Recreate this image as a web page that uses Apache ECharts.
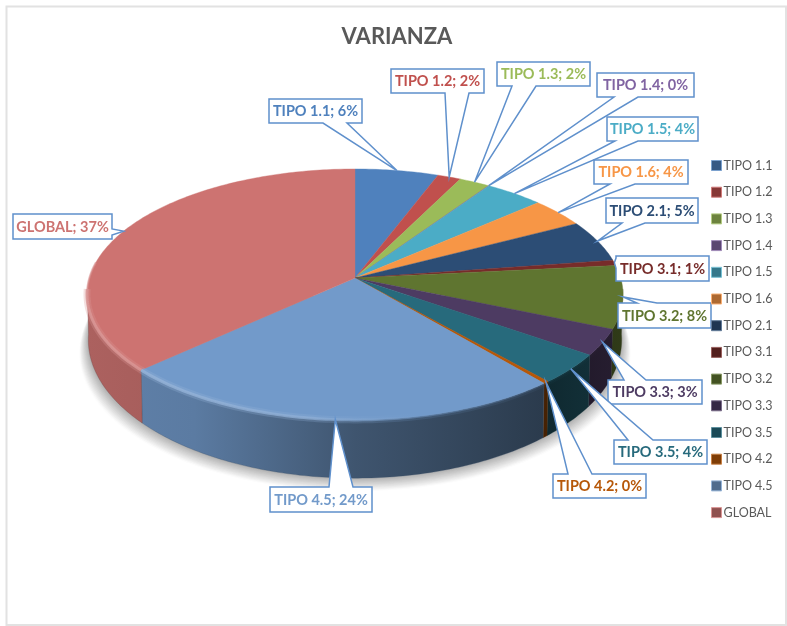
<!DOCTYPE html>
<html>
<head>
<meta charset="utf-8">
<style>html,body{margin:0;padding:0;background:#fff}#c{width:787px;height:626px}</style>
<script src="https://cdn.jsdelivr.net/npm/echarts@6/dist/echarts.min.js"></script>
</head>
<body>
<div id="c"></div>
<script>
const categories = ['TIPO 1.1','TIPO 1.2','TIPO 1.3','TIPO 1.4','TIPO 1.5','TIPO 1.6','TIPO 2.1','TIPO 3.1','TIPO 3.2','TIPO 3.3','TIPO 3.5','TIPO 4.2','TIPO 4.5','GLOBAL'];
const shares = [5.7,1.6,2.1,0.05,4.0,3.8,5.4,0.7,8.1,3.35,3.85,0.3,24.15,36.9];
const colors = ['#4f81bd','#c0504d','#9bbb59','#8064a2','#4bacc6','#f79646','#2c4d75','#772c2a','#5f7530','#4d3b62','#276a7c','#b65708','#729aca','#cd7371'];
const chartTitle = 'VARIANZA';

// Callout boxes: [left, top, width, height, side of the pointer, base start, base end]
const callouts = {
  'TIPO 1.1':[269,99,93,24,'b',323,347],
  'TIPO 1.2':[391,69,93,24,'b',445,469],
  'TIPO 1.3':[497,62,93,24,'b',512,536],
  'TIPO 1.4':[597,73,97,24,'b',614,638],
  'TIPO 1.5':[607,117,91,24,'b',615,638],
  'TIPO 1.6':[594,160,94,24,'b',610,635],
  'TIPO 2.1':[606,198,92,25,'b',622,645],
  'TIPO 3.1':[616,256,93,25,'l',258,268],
  'TIPO 3.2':[618,303,93,25,'t',637,657],
  'TIPO 3.3':[608,380,94,24,'t',624,646],
  'TIPO 3.5':[614,440,93,24,'t',628,653],
  'TIPO 4.2':[553,474,93,24,'t',568,592],
  'TIPO 4.5':[270,487,102,25,'t',329,353],
  'GLOBAL':[13,214,99,25,'r',229,235]
};

// Perspective projection of the tilted disc onto the page
const P = {cx:355, cy:278, R:265.7, S:123.3, k:0.131, depth:44, toward:0.995};
const total = shares.reduce((a,b)=>a+b,0);
const starts = [];
shares.reduce((acc,v,i)=>{starts[i]=acc;return acc+v;},0);

function rim(theta){
  const u=Math.sin(theta), v=Math.cos(theta), d=1+P.k*v;
  return [P.cx+P.R*u/d, P.cy-P.S*v/d, d];
}
function rimXY(theta){const q=rim(theta);return [q[0],q[1]];}
function low(theta){
  const p=rim(theta);
  return [P.cx+(p[0]-P.cx)*P.toward, p[1]+P.depth/(p[2]*p[2])];
}
function angleOf(share){return share/total*Math.PI*2;}
function arc(a,b,fn){
  const n=Math.max(2,Math.ceil(Math.abs(b-a)/0.015)), out=[];
  for(let i=0;i<=n;i++) out.push(fn(a+(b-a)*i/n));
  return out;
}
function rgb(hex){return [1,3,5].map(i=>parseInt(hex.substr(i,2),16));}
function scaleColor(hex,f){return 'rgb('+rgb(hex).map(c=>Math.round(c*f)).join(',')+')';}
function mixWhite(hex,f,a){return 'rgba('+rgb(hex).map(c=>Math.round(c+(255-c)*f)).join(',')+','+a+')';}
const X0=P.cx-268, X1=P.cx+268;
const VIS0=1.66, VIS1=Math.PI*2-1.66; // part of the rim that faces the viewer

function wallFill(hex){
  return {type:'linear',x:X0,y:0,x2:X1,y2:0,global:true,colorStops:[
    {offset:0,color:scaleColor(hex,0.84)},
    {offset:0.2,color:scaleColor(hex,0.8)},
    {offset:0.5,color:scaleColor(hex,0.55)},
    {offset:0.85,color:scaleColor(hex,0.38)},
    {offset:1,color:scaleColor(hex,0.5)}]};
}
function bevelStroke(hex,alpha){
  return {type:'linear',x:X0,y:0,x2:X1,y2:0,global:true,colorStops:[
    {offset:0,color:mixWhite(hex,0.26,alpha)},
    {offset:0.42,color:mixWhite(hex,0.2,0.9*alpha)},
    {offset:0.62,color:mixWhite(hex,0,0.55*alpha)},
    {offset:1,color:mixWhite(hex,0,0)}]};
}
function calloutPath(c,tip){
  const [l,t,w,h,side,a,b]=c, r=l+w, m=t+h;
  if(side==='b') return [[l,t],[r,t],[r,m],[b,m],tip,[a,m],[l,m]];
  if(side==='t') return [[l,t],[a,t],tip,[b,t],[r,t],[r,m],[l,m]];
  if(side==='l') return [[l,t],[r,t],[r,m],[l,m],[l,b],tip,[l,a]];
  return [[l,t],[r,t],[r,a],tip,[r,b],[r,m],[l,m]];
}
// Soft drop shadow under the disc, built from the same projection
function shadowLayers(){
  const kids=[];
  for(let j=12;j>=1;j--){
    const f=1+j*0.0028, dy=j*1.1;
    const ring=arc(VIS0-0.3,VIS1+0.3,t=>{
      const q=low(t);
      return [P.cx+(q[0]-P.cx)*f,q[1]+dy];
    });
    const g=Math.round(252-(12-j)*6.5);
    kids.push({type:'polygon',z2:1+(12-j)*0.05,shape:{points:ring},style:{fill:'rgb('+g+','+g+','+g+')'}});
  }
  return kids;
}

function renderSlice(params,api){
  const i=params.seriesIndex, name=categories[i], hex=colors[i];
  const share=api.value(0);
  const a=angleOf(starts[i]), b=angleOf(starts[i]+share);
  const kids=i===0?shadowLayers():[];
  kids.push({type:'polygon',z2:5,shape:{points:[[P.cx,P.cy]].concat(arc(a,b,rimXY))},
    style:{fill:hex,stroke:hex,lineWidth:0.4}});
  const s=Math.max(a,VIS0), e=Math.min(b,VIS1);
  if(e>s){
    const top=arc(s,e,rimXY), bot=arc(s,e,low).reverse(), wall=top.concat(bot);
    kids.push({type:'polygon',z2:2,shape:{points:wall},style:{fill:wallFill(hex),stroke:scaleColor(hex,0.5),lineWidth:0.3}});
    kids.push({type:'polyline',z2:6,shape:{points:top},
      style:{fill:'none',stroke:bevelStroke(hex,0.3),lineWidth:7}});
    kids.push({type:'polyline',z2:7,shape:{points:top},
      style:{fill:'none',stroke:bevelStroke(hex,0.85),lineWidth:3}});
  }
  if(b>VIS1){
    kids.push({type:'polyline',z2:6,shape:{points:arc(VIS1,VIS1+0.22,rimXY)},
      style:{fill:'none',stroke:bevelStroke(hex,0.55),lineWidth:2}});
  }
  const tip=rimXY((a+b)/2), c=callouts[name];
  kids.push({type:'polygon',z2:20,shape:{points:calloutPath(c,tip)},
    style:{fill:'#fff',stroke:'#5f90cc',lineWidth:1.5}});
  kids.push({type:'text',z2:21,style:{
    text:name+'; '+Math.round(share)+'%',x:c[0]+c[2]/2,y:c[1]+c[3]/2+0.5,
    align:'center',verticalAlign:'middle',fill:hex,font:'bold 14.5px Lato'}});
  return {type:'group',children:kids};
}

const chart=echarts.init(document.getElementById('c'),null,{renderer:'canvas'});
chart.setOption({
  animation:false,
  backgroundColor:'#fff',
  title:{text:chartTitle,left:392,top:21,textAlign:'center',
    textStyle:{fontFamily:'Lato',fontWeight:'bold',fontSize:22,color:'#595959'}},
  legend:{orient:'vertical',left:706,top:154,itemWidth:10,itemHeight:10,itemGap:13.7,
    icon:'rect',textStyle:{fontFamily:'Lato',fontSize:12.5,color:'#595959',padding:[0,0,0,-3]},
    data:categories.map((n,i)=>({name:n,itemStyle:{color:scaleColor(colors[i],0.7),borderColor:mixWhite(colors[i],0.25,1),borderWidth:1}})),
    selectedMode:false},
  graphic:[{type:'rect',shape:{x:6.5,y:6.5,width:779.5,height:618.5},silent:true,
    style:{fill:'none',stroke:'#e2e2e2',lineWidth:2}}],
  series:categories.map((n,i)=>({
    name:n,type:'custom',coordinateSystem:'none',renderItem:renderSlice,silent:true,
    itemStyle:{color:colors[i]},data:[[shares[i]]]}))
});
</script>
</body>
</html>
